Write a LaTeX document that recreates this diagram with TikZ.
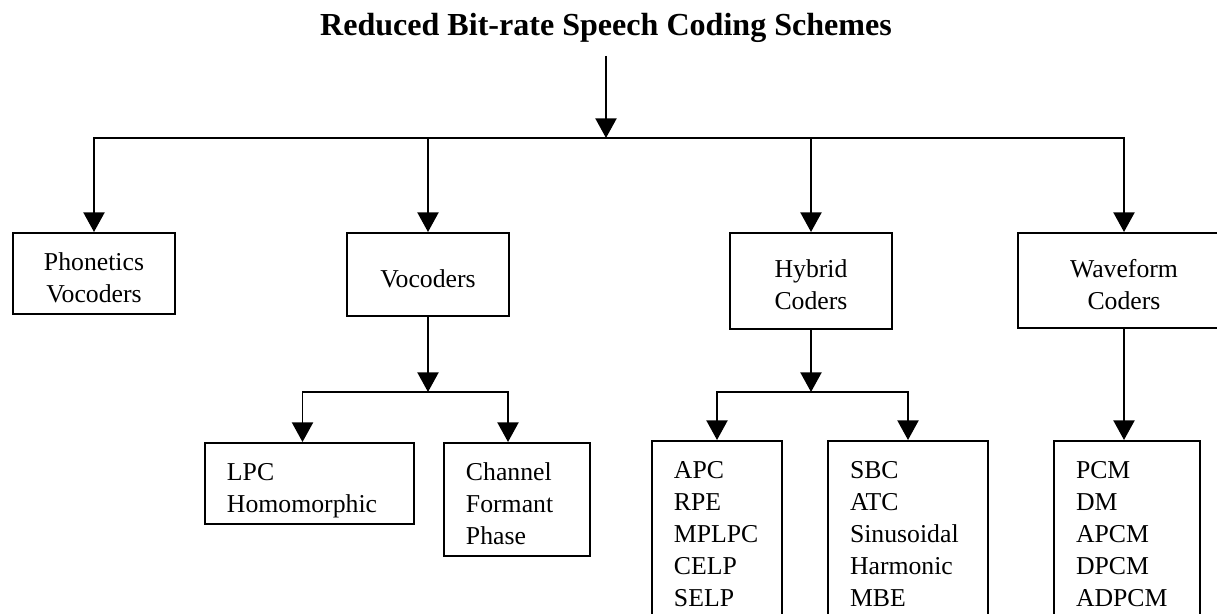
\documentclass[tikz,border=0pt]{standalone}
\usepackage{fontspec}
\setmainfont{Liberation Serif}
\usetikzlibrary{arrows.meta}

\begin{document}
\begin{tikzpicture}[x=0.025cm, y=-0.025cm, line width=1.4pt,
    arr/.style={-{Triangle[width=15pt,length=14pt]}},
    box/.style={draw, inner ysep=0pt,
      execute at begin node={\rule{0pt}{0.925cm}},
      execute at end node={\rule[-0.3cm]{0pt}{0pt}},
      font=\fontsize{18.3pt}{0.8cm}\selectfont},
    headbox/.style={box, inner xsep=0pt, align=center, text width=#1, minimum width=#1},
    listbox/.style={box, inner xsep=0.55cm, align=left, anchor=north west}]
    \useasboundingbox (0,0) rectangle (1217,613);
    \clip (0,0) rectangle (1217,613);
    % title and the four families
    \node[font=\fontsize{22.8pt}{26pt}\selectfont\bfseries, anchor=base] (title) at (606,35) {Reduced Bit-rate Speech Coding Schemes};
    \node[headbox=4.05cm, minimum height=2.025cm] (phon) at (94,273.5) {Phonetics\\Vocoders};
    \node[headbox=4.05cm, minimum height=2.075cm] (voc) at (428,274.5) {Vocoders};
    \node[headbox=4.05cm, minimum height=2.4cm] (hyb) at (811,281) {Hybrid\\Coders};
    \node[headbox=5.3cm, minimum height=2.375cm] (wave) at (1124,280.5) {Waveform\\Coders};
    % lists
    \node[listbox, text width=4.125cm] (lpc) at (204,442) {LPC\\Homomorphic};
    \node[listbox, text width=2.55cm] (chan) at (443,442) {Channel\\Formant\\Phase};
    \node[listbox, text width=2.15cm] (apc) at (651,440) {APC\\RPE\\MPLPC\\CELP\\SELP};
    \node[listbox, text width=2.9cm] (sbc) at (827,440) {SBC\\ATC\\Sinusoidal\\Harmonic\\MBE};
    \node[listbox, text width=2.55cm] (pcm) at (1053,440) {PCM\\DM\\APCM\\DPCM\\ADPCM};
    % connectors
    \coordinate (hub) at (title.south |- 0,138);
    \coordinate (vsplit) at (voc.south |- 0,392);
    \coordinate (hsplit) at (hyb.south |- 0,392);
    \draw[arr, shorten <=0.2cm] (title) -- (hub);
    \foreach \n in {phon,voc,hyb,wave} \draw[arr] (hub) -| (\n);
    \draw[arr] (voc) -- (vsplit);
    \draw[arr] (vsplit) -| ([shift={(-7,0)}]lpc.north);
    \draw[arr] (vsplit) -| ([shift={(-9,0)}]chan.north);
    \draw[arr] (hyb) -- (hsplit);
    \draw[arr] (hsplit) -| (apc);
    \draw[arr] (hsplit) -| (sbc);
    \draw[arr] (wave) -- (wave.south |- pcm.north);
\end{tikzpicture}
\end{document}
